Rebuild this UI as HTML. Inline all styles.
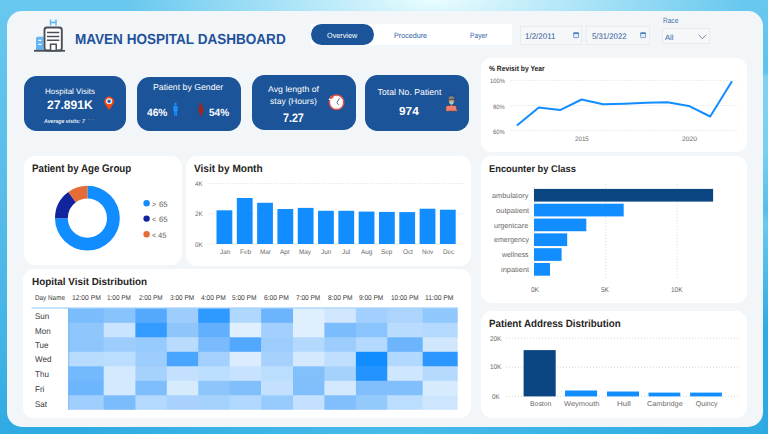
<!DOCTYPE html>
<html><head><meta charset="utf-8">
<style>
*{margin:0;padding:0;box-sizing:border-box}
html,body{width:768px;height:434px;overflow:hidden}
body{position:relative;font-family:"Liberation Sans",Arial,sans-serif;background:#4fb8e8}
.a{position:absolute}
#bg{left:0;top:0;width:768px;height:434px;
 background:
  radial-gradient(ellipse 310px 90px at 435px 0px, rgba(234,253,255,1), rgba(234,253,255,0)),
  radial-gradient(ellipse 330px 40px at 400px 434px, rgba(78,192,236,.8), rgba(78,192,236,0)),
  linear-gradient(180deg,#68c8ef 0%,#54bbe8 50%,#42b3e5 80%,#2eaae2 100%);}
#panel{left:7px;top:11px;width:756.2px;height:416px;border-radius:15px;background:#f2f6f8}
.card{position:absolute;background:#fff;border-radius:11px}
.kpi{position:absolute;background:#1b5499;border-radius:12.5px}
.t{position:absolute;white-space:nowrap;line-height:1;transform-origin:0 0;text-rendering:geometricPrecision}
.box{position:absolute;border:1px solid #e9ecef;background:#f5f7f9}
</style></head><body>
<div id="bg" class="a"></div>
<div class="a" style="left:762px;top:0;width:6px;height:434px;background:linear-gradient(180deg,#68c8ef 0px,#5ec3ec 72px,#7fd1f2 77px,#7ad0f1 150px,#57bee9 210px,#6ccaf0 224px,#5fc4ec 240px,#3eb3e6 300px,#30aae3 330px,#2ea8e2 434px)"></div>
<div id="panel" class="a"></div>
<div class="a" style="left:311px;top:24px;width:201px;height:21px;background:#fff"></div>
<div class="a" style="left:311px;top:24.3px;width:62.5px;height:20.4px;border-radius:11px;background:#1b5499"></div>
<div class="box" style="left:519.8px;top:26.3px;width:62.2px;height:18.4px"></div>
<div class="box" style="left:586px;top:26.3px;width:63.5px;height:18.4px"></div>
<div class="box" style="left:661.5px;top:28px;width:48px;height:15.5px"></div>
<div class="kpi" style="left:24px;top:75.5px;width:102.4px;height:55.7px"></div>
<div class="kpi" style="left:137.1px;top:76.5px;width:104.4px;height:54.7px"></div>
<div class="kpi" style="left:252px;top:75px;width:103.6px;height:55.2px"></div>
<div class="kpi" style="left:364.7px;top:74.5px;width:104.8px;height:56px"></div>
<div class="card" style="left:480.5px;top:57.5px;width:266px;height:94px"></div>
<div class="card" style="left:23.5px;top:156px;width:158px;height:109px"></div>
<div class="card" style="left:186px;top:156px;width:285px;height:109.6px"></div>
<div class="card" style="left:480.5px;top:156.4px;width:266px;height:147px"></div>
<div class="card" style="left:23px;top:269.3px;width:448px;height:148.3px"></div>
<div class="card" style="left:480.5px;top:310.5px;width:266px;height:107.5px"></div>

<svg class="a" style="left:30px;top:16px" width="40" height="40" viewBox="30 16 40 40">
  <path d="M50.5 19.5v6M56 19.5v6M50.5 22.5h5.5" stroke="#5cb3f5" stroke-width="1.4" fill="none"/>
  <path d="M38 36.7h5.5v13.8h-7.5v-11.8a2 2 0 0 1 2-2z" fill="#64b5f6"/>
  <path d="M38.3 40.3h3.2M38.3 44.3h3.2" stroke="#fff" stroke-width="1.2"/>
  <rect x="44.5" y="27.5" width="17.3" height="23" rx="2.5" fill="#fff" stroke="#4a4f57" stroke-width="1.9"/>
  <path d="M47 32.4h12.3M47 36.6h12.3M47 40.3h12.3" stroke="#4a4f57" stroke-width="1.5"/>
  <path d="M50.5 50.5v-6.2h5.7v6.2" fill="#fff" stroke="#4a4f57" stroke-width="1.5"/>
  <path d="M34 50.8h31" stroke="#4a4f57" stroke-width="1.8"/>
</svg>
<svg class="a" style="left:573px;top:31.6px" width="7" height="7" viewBox="0 0 7 7"><rect x="0.6" y="0.7" width="5.0" height="5.0" rx="0.7" fill="#e3edf8" stroke="#5b86c2" stroke-width="0.75"/><rect x="0.3" y="0.4" width="5.6" height="1.6" rx="0.6" fill="#4a7fc0"/></svg>
<svg class="a" style="left:640px;top:31.6px" width="7" height="7" viewBox="0 0 7 7"><rect x="0.6" y="0.7" width="5.0" height="5.0" rx="0.7" fill="#e3edf8" stroke="#5b86c2" stroke-width="0.75"/><rect x="0.3" y="0.4" width="5.6" height="1.6" rx="0.6" fill="#4a7fc0"/></svg>
<svg class="a" style="left:697px;top:33px" width="11" height="7" viewBox="0 0 11 7"><path d="M1.6 1.9l3.8 3.7 3.8-3.7" fill="none" stroke="#5a7aa6" stroke-width="0.85"/></svg>
<svg class="a" style="left:103px;top:95px" width="13" height="16" viewBox="103 95 13 16">
  <path d="M109.1 109.9 L105.1 104.2 A4.8 4.8 0 1 1 113.1 104.2 Z" fill="#fa4612"/>
  <circle cx="109.1" cy="101.3" r="3.0" fill="#fff"/>
  <circle cx="109.1" cy="101.3" r="2.1" fill="#47a3ee"/>
  <circle cx="109.1" cy="101.3" r="1.0" fill="#1e3a5c"/>
</svg>
<svg class="a" style="left:172px;top:102px" width="7" height="15" viewBox="172 102 7 15">
  <circle cx="175.45" cy="104.1" r="1.25" fill="#1b8ff8"/>
  <path d="M173.9 105.7h3.1q0.7 0 0.7 0.7v4.7h-0.7v4.6h-1.35v-4.3h-0.3v4.3h-1.35v-4.6h-0.7v-4.7q0-0.7 0.7-0.7z" fill="#1b8ff8"/>
</svg>
<svg class="a" style="left:197px;top:102px" width="8" height="15" viewBox="197 102 8 15">
  <circle cx="200.7" cy="104.2" r="1.25" fill="#a82219"/>
  <path d="M199.6 105.6h2.2c0.9 0.3 1.5 2.4 1.5 4.9c0 1.2-0.4 2-1 2.5v2.7h-1.15v-2.5h-0.3v2.5h-1.15v-2.7c-0.6-0.5-1-1.3-1-2.5c0-2.5 0.6-4.6 1.5-4.9z" fill="#a82219"/>
</svg>
<svg class="a" style="left:327px;top:92px" width="20" height="20" viewBox="327 92 20 20">
  <circle cx="336.6" cy="102.3" r="7.25" fill="#fff" stroke="#e0514b" stroke-width="1.5"/>
  <path d="M329.2 98.2 L331.5 99.6 L330.4 100.6 L328.6 99.5 Z" fill="#fff"/>
  <path d="M329.7 95.2 L333.9 97.6 L330.6 98.9 Z" fill="#e0514b"/>
  <path d="M339.4 98.3 L336.9 102.7 L338.7 104.9" fill="none" stroke="#4b5a72" stroke-width="0.9"/>
  <path d="M336.6 96.1v0.8M336.6 107.7v0.8M342.1 102.3h0.8" stroke="#a9b8cc" stroke-width="0.6"/>
</svg>
<svg class="a" style="left:444px;top:94px" width="15" height="19" viewBox="444 94 15 19">
  <path d="M445.8 111.2v-3.6c0-1.3 1-2.2 2.3-2.2h6.3c1.3 0 2.3 0.9 2.3 2.2v3.6z" fill="#f27d72" stroke="#2a2c3a" stroke-width="0.5"/>
  <rect x="450.6" y="103.8" width="1.6" height="1.8" fill="#c9956b"/>
  <path d="M448.6 99.2h5.8v2.8c0 1.2-1.2 2.2-2.9 2.2s-2.9-1-2.9-2.2z" fill="#c9956b" stroke="#2a2c3a" stroke-width="0.4"/>
  <path d="M449.7 101.6h3.6v1.6c0 0.6-0.8 1-1.8 1s-1.8-0.4-1.8-1z" fill="#8fd4e2"/>
  <path d="M448.1 99.6v-1.2c0-1.6 1.5-2.7 3.3-2.7s3.3 1.1 3.3 2.7v1.2z" fill="#7b7f86" stroke="#2a2c3a" stroke-width="0.5"/>
  <path d="M446 110.2h1.4v1M455.5 110.2h1.4v1" stroke="#c9956b" stroke-width="0.8" fill="none"/>
</svg>
<svg class="a" style="left:0;top:0" width="768" height="434" viewBox="0 0 768 434">
<path d="M510.5 80.40H736.5" stroke="#d6d6d6" stroke-width="0.9" stroke-dasharray="1 2"/>
<path d="M510.5 105.50H736.5" stroke="#d6d6d6" stroke-width="0.9" stroke-dasharray="1 2"/>
<path d="M510.5 130.70H736.5" stroke="#d6d6d6" stroke-width="0.9" stroke-dasharray="1 2"/>
<polyline points="516.9,125.6 538.8,107.4 560.1,110.1 581.6,99.5 603.1,104.3 624.4,103.7 646,102.8 667.5,102.3 688.8,105.9 710.2,116.5 732,81.3" fill="none" stroke="#118dff" stroke-width="2" stroke-linejoin="round"/>
<path d="M87.40 185.80A32.4 32.4 0 1 1 55.00 218.20L67.80 218.20A19.6 19.6 0 1 0 87.40 198.60Z" fill="#118dff"/>
<path d="M55.00 218.20A32.4 32.4 0 0 1 68.36 191.99L75.88 202.34A19.6 19.6 0 0 0 67.80 218.20Z" fill="#12239e"/>
<path d="M68.36 191.99A32.4 32.4 0 0 1 87.40 185.80L87.40 198.60A19.6 19.6 0 0 0 75.88 202.34Z" fill="#e66c37"/>
<circle cx="146.6" cy="203.3" r="3.2" fill="#118dff"/>
<circle cx="146.6" cy="218.6" r="3.2" fill="#12239e"/>
<circle cx="146.6" cy="234.2" r="3.2" fill="#e66c37"/>
<path d="M207.8 183.60H464.3" stroke="#d6d6d6" stroke-width="0.9" stroke-dasharray="1 2"/>
<path d="M207.8 213.80H464.3" stroke="#d6d6d6" stroke-width="0.9" stroke-dasharray="1 2"/>
<path d="M207.8 244.00H464.3" stroke="#d6d6d6" stroke-width="0.9" stroke-dasharray="1 2"/>
<rect x="216.50" y="210.3" width="15.8" height="33.70" fill="#118dff"/>
<rect x="236.81" y="198" width="15.8" height="46.00" fill="#118dff"/>
<rect x="257.12" y="202.8" width="15.8" height="41.20" fill="#118dff"/>
<rect x="277.43" y="209" width="15.8" height="35.00" fill="#118dff"/>
<rect x="297.74" y="207.9" width="15.8" height="36.10" fill="#118dff"/>
<rect x="318.05" y="210.8" width="15.8" height="33.20" fill="#118dff"/>
<rect x="338.36" y="210.8" width="15.8" height="33.20" fill="#118dff"/>
<rect x="358.67" y="211.6" width="15.8" height="32.40" fill="#118dff"/>
<rect x="378.98" y="211.9" width="15.8" height="32.10" fill="#118dff"/>
<rect x="399.29" y="212.1" width="15.8" height="31.90" fill="#118dff"/>
<rect x="419.60" y="208.7" width="15.8" height="35.30" fill="#118dff"/>
<rect x="439.91" y="209.7" width="15.8" height="34.30" fill="#118dff"/>
<path d="M534.20 184V280" stroke="#d6d6d6" stroke-width="0.9" stroke-dasharray="1 2"/>
<path d="M605.60 184V280" stroke="#d6d6d6" stroke-width="0.9" stroke-dasharray="1 2"/>
<path d="M677.00 184V280" stroke="#d6d6d6" stroke-width="0.9" stroke-dasharray="1 2"/>
<rect x="534" y="188.90" width="179.10" height="12.7" fill="#0b4682"/>
<rect x="534" y="203.72" width="89.70" height="12.7" fill="#118dff"/>
<rect x="534" y="218.54" width="52.30" height="12.7" fill="#118dff"/>
<rect x="534" y="233.36" width="33.20" height="12.7" fill="#118dff"/>
<rect x="534" y="248.18" width="27.60" height="12.7" fill="#118dff"/>
<rect x="534" y="263.00" width="16.00" height="12.7" fill="#118dff"/>
<path d="M506 338.20H738.2" stroke="#d6d6d6" stroke-width="0.9" stroke-dasharray="1 2"/>
<path d="M506 367.30H738.2" stroke="#d6d6d6" stroke-width="0.9" stroke-dasharray="1 2"/>
<path d="M506 396.40H738.2" stroke="#d6d6d6" stroke-width="0.9" stroke-dasharray="1 2"/>
<rect x="523.6" y="350.1" width="32.10" height="46.30" fill="#0b4682"/>
<rect x="565" y="390.5" width="32.10" height="5.90" fill="#118dff"/>
<rect x="607" y="391.5" width="32.00" height="4.90" fill="#118dff"/>
<rect x="648.5" y="392.6" width="31.80" height="3.80" fill="#118dff"/>
<rect x="690.1" y="392.6" width="31.80" height="3.80" fill="#118dff"/>
<rect x="68.4" y="308.30" width="35.90" height="15.10" fill="#7bbcfc"/>
<rect x="103.7" y="308.30" width="32.30" height="15.10" fill="#88c3fc"/>
<rect x="135.4" y="308.30" width="32.00" height="15.10" fill="#55a9fd"/>
<rect x="166.8" y="308.30" width="32.00" height="15.10" fill="#9ccdfd"/>
<rect x="198.2" y="308.30" width="32.10" height="15.10" fill="#2e99ff"/>
<rect x="229.7" y="308.30" width="32.00" height="15.10" fill="#b0d7fe"/>
<rect x="261.1" y="308.30" width="32.50" height="15.10" fill="#6cb5fd"/>
<rect x="293" y="308.30" width="32.00" height="15.10" fill="#dfeffe"/>
<rect x="324.4" y="308.30" width="32.10" height="15.10" fill="#d0e7fe"/>
<rect x="355.9" y="308.30" width="32.00" height="15.10" fill="#a2cffd"/>
<rect x="387.3" y="308.30" width="36.00" height="15.10" fill="#acd4fd"/>
<rect x="422.7" y="308.30" width="35.00" height="15.10" fill="#90c7fc"/>
<rect x="68.4" y="322.80" width="35.90" height="15.10" fill="#8fc6fc"/>
<rect x="103.7" y="322.80" width="32.30" height="15.10" fill="#c9e4fe"/>
<rect x="135.4" y="322.80" width="32.00" height="15.10" fill="#339bff"/>
<rect x="166.8" y="322.80" width="32.00" height="15.10" fill="#8ec6fc"/>
<rect x="198.2" y="322.80" width="32.10" height="15.10" fill="#62affd"/>
<rect x="229.7" y="322.80" width="32.00" height="15.10" fill="#e0effe"/>
<rect x="261.1" y="322.80" width="32.50" height="15.10" fill="#a2cffd"/>
<rect x="293" y="322.80" width="32.00" height="15.10" fill="#e0effe"/>
<rect x="324.4" y="322.80" width="32.10" height="15.10" fill="#7bbcfc"/>
<rect x="355.9" y="322.80" width="32.00" height="15.10" fill="#8ac4fc"/>
<rect x="387.3" y="322.80" width="36.00" height="15.10" fill="#b8dbfe"/>
<rect x="422.7" y="322.80" width="35.00" height="15.10" fill="#b3d9fe"/>
<rect x="68.4" y="337.30" width="35.90" height="15.10" fill="#8ec6fc"/>
<rect x="103.7" y="337.30" width="32.30" height="15.10" fill="#9ccdfd"/>
<rect x="135.4" y="337.30" width="32.00" height="15.10" fill="#98cbfd"/>
<rect x="166.8" y="337.30" width="32.00" height="15.10" fill="#b9dcfe"/>
<rect x="198.2" y="337.30" width="32.10" height="15.10" fill="#79bbfc"/>
<rect x="229.7" y="337.30" width="32.00" height="15.10" fill="#52a8fe"/>
<rect x="261.1" y="337.30" width="32.50" height="15.10" fill="#9ccdfd"/>
<rect x="293" y="337.30" width="32.00" height="15.10" fill="#b3d9fe"/>
<rect x="324.4" y="337.30" width="32.10" height="15.10" fill="#9ccdfd"/>
<rect x="355.9" y="337.30" width="32.00" height="15.10" fill="#b3d9fe"/>
<rect x="387.3" y="337.30" width="36.00" height="15.10" fill="#6cb5fd"/>
<rect x="422.7" y="337.30" width="35.00" height="15.10" fill="#d0e7fe"/>
<rect x="68.4" y="351.80" width="35.90" height="15.10" fill="#b9dcfe"/>
<rect x="103.7" y="351.80" width="32.30" height="15.10" fill="#bcdefe"/>
<rect x="135.4" y="351.80" width="32.00" height="15.10" fill="#9dcdfd"/>
<rect x="166.8" y="351.80" width="32.00" height="15.10" fill="#4aa5fe"/>
<rect x="198.2" y="351.80" width="32.10" height="15.10" fill="#a4d0fd"/>
<rect x="229.7" y="351.80" width="32.00" height="15.10" fill="#dbecfe"/>
<rect x="261.1" y="351.80" width="32.50" height="15.10" fill="#a6d1fd"/>
<rect x="293" y="351.80" width="32.00" height="15.10" fill="#d4e9fe"/>
<rect x="324.4" y="351.80" width="32.10" height="15.10" fill="#c0dffe"/>
<rect x="355.9" y="351.80" width="32.00" height="15.10" fill="#118dff"/>
<rect x="387.3" y="351.80" width="36.00" height="15.10" fill="#b1d8fe"/>
<rect x="422.7" y="351.80" width="35.00" height="15.10" fill="#2c98ff"/>
<rect x="68.4" y="366.30" width="35.90" height="15.10" fill="#73b9fd"/>
<rect x="103.7" y="366.30" width="32.30" height="15.10" fill="#d3e9fe"/>
<rect x="135.4" y="366.30" width="32.00" height="15.10" fill="#a5d1fd"/>
<rect x="166.8" y="366.30" width="32.00" height="15.10" fill="#c3e1fe"/>
<rect x="198.2" y="366.30" width="32.10" height="15.10" fill="#bcdefe"/>
<rect x="229.7" y="366.30" width="32.00" height="15.10" fill="#c6e2fe"/>
<rect x="261.1" y="366.30" width="32.50" height="15.10" fill="#bcdefe"/>
<rect x="293" y="366.30" width="32.00" height="15.10" fill="#82c0fc"/>
<rect x="324.4" y="366.30" width="32.10" height="15.10" fill="#a5d1fd"/>
<rect x="355.9" y="366.30" width="32.00" height="15.10" fill="#2293ff"/>
<rect x="387.3" y="366.30" width="36.00" height="15.10" fill="#cfe7fe"/>
<rect x="422.7" y="366.30" width="35.00" height="15.10" fill="#b5dafe"/>
<rect x="68.4" y="380.80" width="35.90" height="15.10" fill="#6db5fd"/>
<rect x="103.7" y="380.80" width="32.30" height="15.10" fill="#d3e9fe"/>
<rect x="135.4" y="380.80" width="32.00" height="15.10" fill="#7fbefc"/>
<rect x="166.8" y="380.80" width="32.00" height="15.10" fill="#d7ebfe"/>
<rect x="198.2" y="380.80" width="32.10" height="15.10" fill="#8ec6fc"/>
<rect x="229.7" y="380.80" width="32.00" height="15.10" fill="#80bffc"/>
<rect x="261.1" y="380.80" width="32.50" height="15.10" fill="#c3e1fe"/>
<rect x="293" y="380.80" width="32.00" height="15.10" fill="#80bffc"/>
<rect x="324.4" y="380.80" width="32.10" height="15.10" fill="#d3e9fe"/>
<rect x="355.9" y="380.80" width="32.00" height="15.10" fill="#80bffc"/>
<rect x="387.3" y="380.80" width="36.00" height="15.10" fill="#80bffc"/>
<rect x="422.7" y="380.80" width="35.00" height="15.10" fill="#d7ebfe"/>
<rect x="68.4" y="395.30" width="35.90" height="14.50" fill="#a1cffd"/>
<rect x="103.7" y="395.30" width="32.30" height="14.50" fill="#7bbcfc"/>
<rect x="135.4" y="395.30" width="32.00" height="14.50" fill="#b3d9fe"/>
<rect x="166.8" y="395.30" width="32.00" height="14.50" fill="#a8d2fd"/>
<rect x="198.2" y="395.30" width="32.10" height="14.50" fill="#a5d1fd"/>
<rect x="229.7" y="395.30" width="32.00" height="14.50" fill="#b1d8fe"/>
<rect x="261.1" y="395.30" width="32.50" height="14.50" fill="#98cbfd"/>
<rect x="293" y="395.30" width="32.00" height="14.50" fill="#c3e1fe"/>
<rect x="324.4" y="395.30" width="32.10" height="14.50" fill="#80bffc"/>
<rect x="355.9" y="395.30" width="32.00" height="14.50" fill="#94c9fc"/>
<rect x="387.3" y="395.30" width="36.00" height="14.50" fill="#bcdefe"/>
<rect x="422.7" y="395.30" width="35.00" height="14.50" fill="#cde6fe"/>
<path d="M31.6 308H457.7" stroke="#8cc6fa" stroke-width="1"/>
<path d="M68.7 308V409.8" stroke="#5aa9f0" stroke-width="0.7"/>
</svg>
<div class="t" style="left:75.38px;top:33.34px;font-size:14.6px;color:#22519b;font-weight:bold;transform:scaleX(0.928);">MAVEN HOSPITAL DASHBOARD</div>
<div class="t" style="left:326.94px;top:31.86px;font-size:7.6px;color:#ffffff;transform:scaleX(0.953);">Overview</div>
<div class="t" style="left:393.77px;top:31.86px;font-size:7.6px;color:#2f5fa3;transform:scaleX(0.944);">Procedure</div>
<div class="t" style="left:470.37px;top:31.86px;font-size:7.6px;color:#2f5fa3;transform:scaleX(0.879);">Payer</div>
<div class="t" style="left:524.97px;top:32.55px;font-size:8.2px;color:#33609c;transform:scaleX(0.974);">1/2/2011</div>
<div class="t" style="left:592.17px;top:32.55px;font-size:8.2px;color:#33609c;transform:scaleX(0.949);">5/31/2022</div>
<div class="t" style="left:663.23px;top:16.54px;font-size:7.6px;color:#4570a8;transform:scaleX(0.861);">Race</div>
<div class="t" style="left:665.34px;top:33.52px;font-size:7.6px;color:#2f5fa3;transform:scaleX(1.005);">All</div>
<div class="t" style="left:44.76px;top:87.80px;font-size:8.1px;color:#fff;transform:scaleX(0.987);">Hospital Visits</div>
<div class="t" style="left:46.72px;top:98.59px;font-size:12.2px;color:#fff;font-weight:bold;transform:scaleX(0.991);">27.891K</div>
<div class="t" style="left:44.18px;top:119.63px;font-size:5.6px;color:#e8eef6;font-weight:bold;font-style:italic;transform:scaleX(0.918);">Average visits: 7</div>
<div class="t" style="left:88.35px;top:118.03px;font-size:5.6px;color:#6a86b0;transform:scaleX(0.806);">&#8211; &#8211;</div>
<div class="t" style="left:153.09px;top:83.23px;font-size:8.7px;color:#fff;transform:scaleX(1.003);">Patient by Gender</div>
<div class="t" style="left:147.01px;top:108.42px;font-size:10.6px;color:#fff;font-weight:bold;transform:scaleX(0.963);">46%</div>
<div class="t" style="left:208.71px;top:108.42px;font-size:10.6px;color:#fff;font-weight:bold;transform:scaleX(0.951);">54%</div>
<div class="t" style="left:267.66px;top:84.62px;font-size:8.4px;color:#fff;transform:scaleX(1.047);">Avg length of</div>
<div class="t" style="left:269.79px;top:96.84px;font-size:8.4px;color:#fff;transform:scaleX(1.028);">stay (Hours)</div>
<div class="t" style="left:282.90px;top:112.37px;font-size:12.2px;color:#fff;font-weight:bold;transform:scaleX(0.875);">7.27</div>
<div class="t" style="left:377.58px;top:87.57px;font-size:8.7px;color:#fff;">Total No. Patient</div>
<div class="t" style="left:398.52px;top:105.68px;font-size:11.6px;color:#fff;font-weight:bold;transform:scaleX(1.021);">974</div>
<div class="t" style="left:489.03px;top:64.78px;font-size:7.5px;color:#252423;font-weight:bold;transform:scaleX(0.898);">% Revisit by Year</div>
<div class="t" style="left:489.86px;top:79.29px;font-size:6.3px;color:#6b6967;transform:scaleX(0.930);">100%</div>
<div class="t" style="left:493.12px;top:104.63px;font-size:6.3px;color:#6b6967;transform:scaleX(0.930);">80%</div>
<div class="t" style="left:493.12px;top:129.51px;font-size:6.3px;color:#6b6967;transform:scaleX(0.930);">60%</div>
<div class="t" style="left:575.18px;top:137.28px;font-size:6.6px;color:#6b6967;transform:scaleX(0.939);">2015</div>
<div class="t" style="left:682.04px;top:137.28px;font-size:6.6px;color:#6b6967;transform:scaleX(1.018);">2020</div>
<div class="t" style="left:32.18px;top:164.35px;font-size:11px;color:#252423;font-weight:bold;transform:scaleX(0.886);">Patient by Age Group</div>
<div class="t" style="left:158.88px;top:201.17px;font-size:7.8px;color:#605e5c;">65</div>
<div class="t" style="left:152.10px;top:201.17px;font-size:7.8px;color:#605e5c;transform:scaleX(0.917);">&gt;</div>
<div class="t" style="left:158.88px;top:216.27px;font-size:7.8px;color:#605e5c;">65</div>
<div class="t" style="left:152.10px;top:216.27px;font-size:7.8px;color:#605e5c;transform:scaleX(0.917);">&lt;</div>
<div class="t" style="left:158.38px;top:231.61px;font-size:7.8px;color:#605e5c;transform:scaleX(0.977);">45</div>
<div class="t" style="left:152.10px;top:231.61px;font-size:7.8px;color:#605e5c;transform:scaleX(0.917);">&lt;</div>
<div class="t" style="left:194.00px;top:164.42px;font-size:10.6px;color:#252423;font-weight:bold;transform:scaleX(0.950);">Visit by Month</div>
<div class="t" style="left:194.88px;top:182.44px;font-size:6.7px;color:#6b6967;transform:scaleX(0.930);">4K</div>
<div class="t" style="left:194.88px;top:212.32px;font-size:6.7px;color:#6b6967;transform:scaleX(0.930);">2K</div>
<div class="t" style="left:194.88px;top:243.00px;font-size:6.7px;color:#6b6967;transform:scaleX(0.930);">0K</div>
<div class="t" style="left:219.58px;top:250.04px;font-size:6.7px;color:#6b6967;transform:scaleX(0.950);">Jan</div>
<div class="t" style="left:239.60px;top:250.04px;font-size:6.7px;color:#6b6967;transform:scaleX(0.950);">Feb</div>
<div class="t" style="left:259.76px;top:250.04px;font-size:6.7px;color:#6b6967;transform:scaleX(0.950);">Mar</div>
<div class="t" style="left:280.38px;top:250.04px;font-size:6.7px;color:#6b6967;transform:scaleX(0.950);">Apr</div>
<div class="t" style="left:299.30px;top:250.04px;font-size:6.7px;color:#6b6967;transform:scaleX(0.950);">May</div>
<div class="t" style="left:320.85px;top:250.04px;font-size:6.7px;color:#6b6967;transform:scaleX(0.950);">Jun</div>
<div class="t" style="left:342.15px;top:250.04px;font-size:6.7px;color:#6b6967;transform:scaleX(0.950);">Jul</div>
<div class="t" style="left:361.28px;top:250.04px;font-size:6.7px;color:#6b6967;transform:scaleX(0.950);">Aug</div>
<div class="t" style="left:381.29px;top:250.04px;font-size:6.7px;color:#6b6967;transform:scaleX(0.950);">Sep</div>
<div class="t" style="left:402.53px;top:250.04px;font-size:6.7px;color:#6b6967;transform:scaleX(0.950);">Oct</div>
<div class="t" style="left:421.58px;top:250.04px;font-size:6.7px;color:#6b6967;transform:scaleX(0.950);">Nov</div>
<div class="t" style="left:442.73px;top:250.04px;font-size:6.7px;color:#6b6967;transform:scaleX(0.950);">Dec</div>
<div class="t" style="left:488.66px;top:164.86px;font-size:9.8px;color:#252423;font-weight:bold;transform:scaleX(0.950);">Encounter by Class</div>
<div class="t" style="left:530.64px;top:286.86px;font-size:7.0px;color:#6b6967;transform:scaleX(0.930);">0K</div>
<div class="t" style="left:601.40px;top:286.86px;font-size:7.0px;color:#6b6967;transform:scaleX(0.930);">5K</div>
<div class="t" style="left:671.41px;top:286.86px;font-size:7.0px;color:#6b6967;transform:scaleX(0.930);">10K</div>
<div class="t" style="left:491.70px;top:191.88px;font-size:7.3px;color:#6b6967;transform:scaleX(1.007);">ambulatory</div>
<div class="t" style="left:495.71px;top:206.70px;font-size:7.3px;color:#6b6967;transform:scaleX(1.036);">outpatient</div>
<div class="t" style="left:494.16px;top:221.52px;font-size:7.3px;color:#6b6967;transform:scaleX(0.980);">urgentcare</div>
<div class="t" style="left:493.72px;top:236.34px;font-size:7.3px;color:#6b6967;transform:scaleX(0.973);">emergency</div>
<div class="t" style="left:501.76px;top:251.16px;font-size:7.3px;color:#6b6967;transform:scaleX(0.950);">wellness</div>
<div class="t" style="left:500.83px;top:265.98px;font-size:7.3px;color:#6b6967;transform:scaleX(1.018);">inpatient</div>
<div class="t" style="left:488.80px;top:318.99px;font-size:10.5px;color:#252423;font-weight:bold;transform:scaleX(0.931);">Patient Address Distribution</div>
<div class="t" style="left:489.56px;top:336.87px;font-size:6.8px;color:#6b6967;transform:scaleX(0.930);">20K</div>
<div class="t" style="left:489.56px;top:365.41px;font-size:6.8px;color:#6b6967;transform:scaleX(0.930);">10K</div>
<div class="t" style="left:492.28px;top:394.75px;font-size:6.8px;color:#6b6967;transform:scaleX(0.930);">0K</div>
<div class="t" style="left:529.74px;top:400.74px;font-size:7.0px;color:#6b6967;transform:scaleX(0.979);">Boston</div>
<div class="t" style="left:564.22px;top:400.74px;font-size:7.0px;color:#6b6967;transform:scaleX(1.063);">Weymouth</div>
<div class="t" style="left:616.77px;top:400.74px;font-size:7.0px;color:#6b6967;transform:scaleX(1.133);">Hull</div>
<div class="t" style="left:647.46px;top:400.74px;font-size:7.0px;color:#6b6967;transform:scaleX(1.044);">Cambridge</div>
<div class="t" style="left:695.83px;top:400.74px;font-size:7.0px;color:#6b6967;">Quincy</div>
<div class="t" style="left:31.87px;top:278.28px;font-size:10.2px;color:#252423;font-weight:bold;transform:scaleX(0.970);">Hopital Visit Distribution</div>
<div class="t" style="left:34.55px;top:294.60px;font-size:7.1px;color:#3b3a39;transform:scaleX(0.894);">Day Name</div>
<div class="t" style="left:71.53px;top:294.60px;font-size:7.1px;color:#3b3a39;transform:scaleX(0.950);">12:00 PM</div>
<div class="t" style="left:106.88px;top:294.60px;font-size:7.1px;color:#3b3a39;transform:scaleX(0.901);">1:00 PM</div>
<div class="t" style="left:139.19px;top:294.60px;font-size:7.1px;color:#3b3a39;transform:scaleX(0.894);">2:00 PM</div>
<div class="t" style="left:170.03px;top:294.60px;font-size:7.1px;color:#3b3a39;transform:scaleX(0.920);">3:00 PM</div>
<div class="t" style="left:201.11px;top:294.60px;font-size:7.1px;color:#3b3a39;transform:scaleX(0.934);">4:00 PM</div>
<div class="t" style="left:232.48px;top:294.60px;font-size:7.1px;color:#3b3a39;transform:scaleX(0.925);">5:00 PM</div>
<div class="t" style="left:264.26px;top:294.60px;font-size:7.1px;color:#3b3a39;transform:scaleX(0.941);">6:00 PM</div>
<div class="t" style="left:296.40px;top:294.60px;font-size:7.1px;color:#3b3a39;transform:scaleX(0.919);">7:00 PM</div>
<div class="t" style="left:327.96px;top:294.60px;font-size:7.1px;color:#3b3a39;transform:scaleX(0.928);">8:00 PM</div>
<div class="t" style="left:359.06px;top:294.60px;font-size:7.1px;color:#3b3a39;transform:scaleX(0.915);">9:00 PM</div>
<div class="t" style="left:391.21px;top:294.60px;font-size:7.1px;color:#3b3a39;transform:scaleX(0.908);">10:00 PM</div>
<div class="t" style="left:425.29px;top:294.60px;font-size:7.1px;color:#3b3a39;transform:scaleX(0.955);">11:00 PM</div>
<div class="t" style="left:34.83px;top:312.41px;font-size:8.3px;color:#3b3a39;transform:scaleX(0.970);">Sun</div>
<div class="t" style="left:34.54px;top:326.68px;font-size:8.3px;color:#3b3a39;transform:scaleX(0.970);">Mon</div>
<div class="t" style="left:35.02px;top:340.95px;font-size:8.3px;color:#3b3a39;transform:scaleX(0.970);">Tue</div>
<div class="t" style="left:35.12px;top:355.22px;font-size:8.3px;color:#3b3a39;transform:scaleX(0.970);">Wed</div>
<div class="t" style="left:35.02px;top:370.29px;font-size:8.3px;color:#3b3a39;transform:scaleX(0.970);">Thu</div>
<div class="t" style="left:34.54px;top:384.56px;font-size:8.3px;color:#3b3a39;transform:scaleX(0.970);">Fri</div>
<div class="t" style="left:34.83px;top:399.63px;font-size:8.3px;color:#3b3a39;transform:scaleX(0.970);">Sat</div>
</body></html>
